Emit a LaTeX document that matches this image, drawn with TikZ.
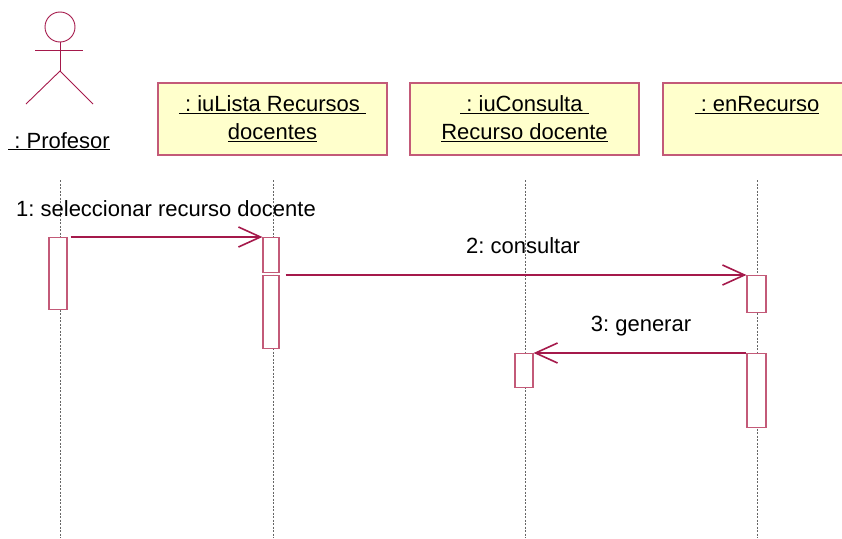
\documentclass[tikz,border=0pt]{standalone}
\usepackage{fontspec}
\setmainfont{Liberation Sans}
\frenchspacing
\usetikzlibrary{arrows.meta}
\definecolor{umlred}{RGB}{165,25,75}
\definecolor{umlpink}{RGB}{195,90,120}
\definecolor{umlfill}{RGB}{255,255,204}
\tikzset{
  objbox/.style={draw=umlpink,fill=umlfill,line width=1.2pt,minimum height=72pt,
    align=center,font=\fontsize{22}{28}\selectfont,inner sep=0pt},
  actbox/.style={draw=umlpink,fill=white,line width=1.2pt,inner sep=0pt,anchor=north},
  lifeline/.style={gray!80!black,dash pattern=on 2pt off 1.5pt,line width=0.6pt},
  msg/.style={umlred,line width=1.3pt,-{Straight Barb[length=22pt,width=20pt,line width=1.6pt]}},
  msglabel/.style={font=\fontsize{22}{26}\selectfont,anchor=base}
}
\begin{document}
\begin{tikzpicture}[x=1pt,y=-1pt]
        \useasboundingbox (0,0) rectangle (842,538);

        % actor
        \draw[umlred,line width=0.9pt] (60,27) circle (15);
        \draw[umlred,line width=0.9pt] (35,50) -- (83,50);
        \draw[umlred,line width=0.9pt] (60,42) -- (60,71);
        \draw[umlred,line width=0.9pt] (26,104) -- (60,71) -- (93,104);
        \node[msglabel] (prof) at (59,148) {\underline{\ : Profesor}};

        % objects
        \node[objbox,minimum width=229pt] (lista) at (272.5,119) {\underline{\ : iuLista Recursos\ }\\\underline{docentes}};
        \node[objbox,minimum width=229pt] (consulta) at (524.5,119) {\underline{\ : iuConsulta\ }\\\underline{Recurso docente}};
        \node[objbox,minimum width=188pt,text depth=0pt] (recurso) at (757,119) {\underline{\ : enRecurso}\\[2pt]\strut};

        % lifelines
        \draw[lifeline] (60,180) -- (60,538);
        \draw[lifeline] (273,180) -- (273,538);
        \draw[lifeline] (525,180) -- (525,538);
        \draw[lifeline] (757,180) -- (757,538);

        % activations
        \node[actbox,minimum width=18pt,minimum height=72pt] (profAct) at (58,237) {};
        \node[actbox,minimum width=16pt,minimum height=35pt] (listaAct1) at (271,237) {};
        \node[actbox,minimum width=16pt,minimum height=73pt] (listaAct2) at (271,275) {};
        \node[actbox,minimum width=19pt,minimum height=37pt] (recursoAct1) at (756.5,275) {};
        \node[actbox,minimum width=19pt,minimum height=74pt] (recursoAct2) at (756.5,353) {};
        \node[actbox,minimum width=18pt,minimum height=34pt] (consultaAct) at (524,353) {};

        % messages
        \draw[msg] ([xshift=3pt]profAct.north east) -- (listaAct1.north west);
        \node[msglabel] (m1) at (166,216) {1: seleccionar recurso docente};
        \draw[msg] ([xshift=6pt]listaAct2.north east) -- (recursoAct1.north west);
        \node[msglabel] (m2) at (523,253) {2: consultar};
        \draw[msg] (recursoAct2.north west) -- (consultaAct.north east);
        \node[msglabel] (m3) at (641,331) {3: generar};
    \end{tikzpicture}
\end{document}
